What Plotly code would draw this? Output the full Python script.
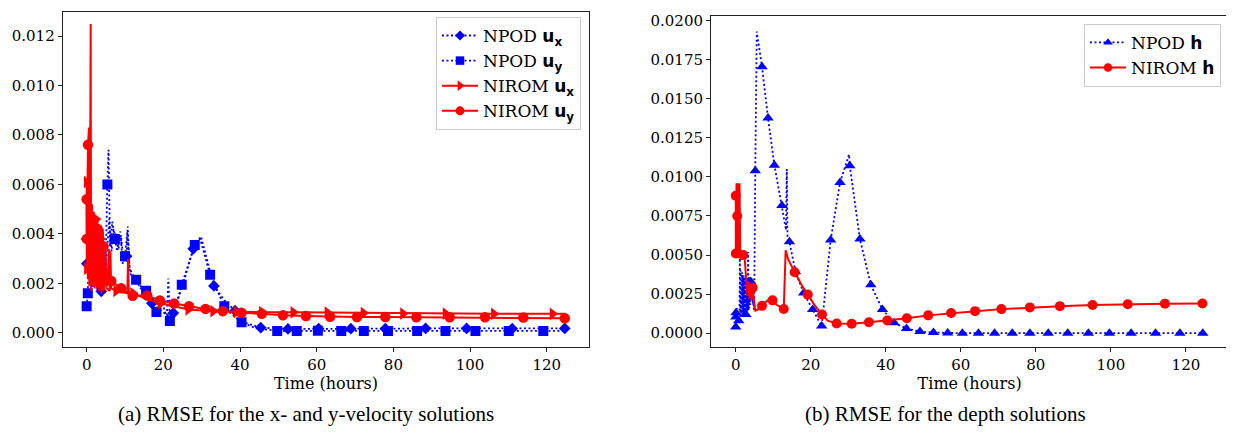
import plotly.graph_objects as go
from plotly.subplots import make_subplots

# ---------------- left panel: velocity RMSE ----------------
# NPOD u_x (blue diamonds, dotted)
npod_ux_t = [0.0, 0.05, 3.8, 7.6, 10.4, 17.0, 22.6, 27.8, 33.2, 38.7, 45.4, 52.5,
             60.5, 68.9, 77.9, 88.4, 99.1, 111.0, 124.7]
npod_ux_v = [0.0038, 0.0028, 0.00168, 0.0038, 0.0031, 0.0012, 0.0008, 0.0034, 0.0019,
             0.0009, 0.00021, 0.00016, 0.00017, 0.00017, 0.00017, 0.00018, 0.00018,
             0.00017, 0.00018]
npod_ux_xt = [0.5, 0.8, 1.1, 1.4, 1.7, 2.0, 2.4, 2.8, 3.2, 5.0, 5.9, 6.5, 7.0, 8.3, 9.0,
              9.6, 10.7, 11.2, 12.5, 14.0, 19.5, 21.0, 25.0, 29.8, 31.5, 36.0, 41.5]
npod_ux_xv = [0.0068, 0.0025, 0.0042, 0.0020, 0.0038, 0.0019, 0.0035, 0.0017, 0.0030,
              0.0026, 0.0046, 0.0033, 0.0042, 0.0034, 0.0039, 0.0029, 0.0043, 0.0026,
              0.0022, 0.0019, 0.0009, 0.0007, 0.0019, 0.0039, 0.0029, 0.0013, 0.0004]

# NPOD u_y (blue squares, dotted)
npod_uy_t = [0.0, 0.3, 5.4, 7.3, 10.0, 12.9, 15.5, 18.2, 21.7, 24.8, 28.2, 32.2, 35.9,
             40.4, 49.7, 54.8, 60.3, 66.4, 72.3, 78.6, 86.2, 93.6, 101.4, 110.1, 119.1]
npod_uy_v = [0.00108, 0.0016, 0.0060, 0.0038, 0.0031, 0.00215, 0.0017, 0.00085, 0.00048,
             0.00195, 0.00355, 0.00235, 0.00108, 0.00043, 0.00008, 0.00008, 0.00009,
             0.00008, 0.00008, 0.00008, 0.00008, 0.00008, 0.00008, 0.00008, 0.00008]
npod_uy_xt = [0.1, 0.6, 0.9, 1.3, 1.6, 2.0, 2.5, 3.0, 3.6, 4.3, 4.9, 5.7, 6.1, 6.7, 8.0,
              8.8, 9.4, 10.6, 11.3, 14.0, 16.8, 19.8, 20.9, 21.3, 22.5, 29.6, 37.5, 44.0,
              124.9]
npod_uy_xv = [0.0013, 0.0048, 0.0022, 0.0040, 0.0018, 0.0037, 0.0020, 0.0033, 0.0021,
              0.0029, 0.0024, 0.0074, 0.0035, 0.0045, 0.0033, 0.0041, 0.0028, 0.0041,
              0.0024, 0.0018, 0.0013, 0.0012, 0.0006, 0.0022, 0.0007, 0.0038, 0.0008,
              0.0002, 0.00008]

# NIROM u_x (red right-triangles, solid)
nirom_ux_t = [0.0, 0.05, 2.4, 3.6, 7.7, 12.1, 19.3, 26.5, 33.0, 39.1, 45.7, 53.9, 62.8,
              72.2, 82.5, 93.6, 106.2, 121.5]
nirom_ux_v = [0.0061, 0.0026, 0.0046, 0.0038, 0.0017, 0.0016, 0.0012, 0.00095, 0.00088,
              0.00085, 0.00084, 0.00083, 0.00082, 0.0008, 0.00078, 0.00078, 0.00077,
              0.00077]
nirom_ux_xt = [0.15, 0.3, 0.5, 0.7, 0.9, 1.1, 1.3, 1.6, 1.9, 2.1, 2.7, 3.0, 3.3, 3.9, 4.2,
               4.5, 4.8, 5.2, 6.0, 6.2, 6.4, 10.6, 10.8, 11.0, 16.0, 124.9]
nirom_ux_xv = [0.0048, 0.0022, 0.0058, 0.0019, 0.0055, 0.0017, 0.0050, 0.0019, 0.0049,
               0.0018, 0.0018, 0.0044, 0.0017, 0.0016, 0.0042, 0.0017, 0.0035, 0.0018,
               0.0017, 0.0033, 0.0018, 0.0016, 0.0030, 0.0016, 0.00135, 0.00077]

# NIROM u_y (red circles, solid)
nirom_uy_t = [0.0, 0.02, 0.35, 1.8, 2.9, 4.4, 6.4, 9.0, 12.0, 15.8, 19.1, 22.8, 26.7,
              31.0, 35.5, 40.4, 45.7, 51.2, 57.2, 63.5, 70.5, 77.9, 86.0, 94.7, 103.9,
              113.9, 124.7]
nirom_uy_v = [0.0054, 0.0038, 0.0076, 0.0045, 0.0042, 0.0035, 0.0021, 0.0018, 0.0015,
              0.00151, 0.00131, 0.00119, 0.00108, 0.00097, 0.00088, 0.00081, 0.00077,
              0.00071, 0.00068, 0.00065, 0.00064, 0.00064, 0.00063, 0.00063, 0.00063,
              0.00062, 0.00059]
nirom_uy_xt = [0.6, 0.8, 1.05, 1.15, 1.4, 1.6, 2.1, 2.4, 2.6, 3.2, 3.5, 3.8, 4.1, 4.7,
               5.0, 5.4, 5.8, 6.0]
nirom_uy_xv = [0.0083, 0.0025, 0.01248, 0.0022, 0.0052, 0.0020, 0.0021, 0.0047, 0.0019,
               0.0018, 0.0043, 0.0017, 0.0041, 0.0019, 0.0026, 0.0019, 0.0034, 0.0020]

# ---------------- right panel: depth RMSE ----------------
# NPOD h (blue triangles, dotted)
npod_h_t = [0.0, 0.02, 0.05, 0.8, 2.7, 4.0, 5.2, 7.0, 8.6, 10.3, 12.3, 14.3, 15.9, 18.1,
            20.5, 22.9, 25.3, 27.8, 30.4, 33.1, 36.0, 39.1, 42.2, 45.5, 49.1, 52.7, 56.5,
            60.4, 64.7, 69.0, 73.7, 78.4, 83.3, 88.5, 94.0, 99.6, 105.4, 111.9, 118.4,
            124.5]
npod_h_v = [0.0004, 0.00103, 0.0013, 0.0008, 0.0012, 0.0033, 0.0104, 0.01705, 0.01377,
            0.01075, 0.00817, 0.00585, 0.00395, 0.00257, 0.00152, 0.00046, 0.00596,
            0.00965, 0.01071, 0.00602, 0.0031, 0.00152, 0.00067, 0.0003, 0.0001, 0.00004,
            0.00001, 0.0, 0.0, 0.0, 0.0, 0.0, 0.0, 0.0, 0.0, 0.0, 0.0, 0.0, 0.0, 0.0]
npod_h_xt = [0.3, 0.5, 1.0, 1.1, 1.2, 1.3, 1.4, 1.5, 1.6, 1.7, 1.8, 1.9, 2.0, 2.1, 2.2,
             2.3, 2.4, 2.5, 2.6, 2.8, 2.9, 3.0, 3.1, 3.2, 3.3, 3.4, 3.5, 3.6, 3.7, 3.8,
             3.9, 4.2, 4.3, 4.4, 4.5, 4.6, 4.7, 4.9, 5.6, 13.4, 13.6, 13.8, 30.2]
npod_h_xv = [0.0016, 0.0007, 0.0011, 0.0048, 0.0010, 0.0040, 0.0011, 0.0038, 0.0012,
             0.0039, 0.0012, 0.0036, 0.0011, 0.0037, 0.0013, 0.0035, 0.0012, 0.0036,
             0.0013, 0.0034, 0.0013, 0.0035, 0.0014, 0.0036, 0.0052, 0.0015, 0.0036,
             0.0016, 0.0034, 0.0018, 0.0033, 0.0030, 0.0022, 0.0031, 0.0019, 0.0027,
             0.0017, 0.0015, 0.0193, 0.0066, 0.0105, 0.0062, 0.01144]

# NIROM h (red circles, solid)
nirom_h_t = [0.0, 0.02, 0.4, 2.0, 4.5, 7.0, 9.8, 12.8, 15.7, 19.2, 23.0, 26.9, 30.9,
             35.5, 40.4, 45.6, 51.3, 57.4, 63.8, 70.8, 78.4, 86.4, 95.1, 104.5, 114.4,
             124.4]
nirom_h_v = [0.0088, 0.0051, 0.0075, 0.0050, 0.0029, 0.00175, 0.0021, 0.00155, 0.0039,
             0.00247, 0.0012, 0.00062, 0.00061, 0.0007, 0.00081, 0.00096, 0.00114,
             0.00129, 0.00141, 0.00154, 0.00165, 0.00173, 0.0018, 0.00185, 0.00189,
             0.0019]
nirom_h_xt = [0.2, 0.3, 0.6, 0.8, 1.0, 1.2, 1.5, 2.4, 2.8, 3.1, 3.4, 3.7, 4.0, 4.2, 5.2,
              5.8, 8.5, 11.0, 13.3, 14.0, 17.5, 21.0, 24.5]
nirom_h_xv = [0.0096, 0.0049, 0.0096, 0.0048, 0.0096, 0.0052, 0.0047, 0.0047, 0.0036,
              0.0024, 0.0033, 0.0022, 0.0031, 0.0021, 0.00145, 0.0015, 0.0021, 0.0018,
              0.0053, 0.0047, 0.0031, 0.0018, 0.0008]

BLUE = '#0000ff'
RED = '#ff0000'
SERIF = 'DejaVu Serif'

# page body adds an 8px offset, so the figure is a bit smaller than the window
W, H = 1226, 418


def px(x, y):
    """window pixel -> paper fraction"""
    return (x - 8) / W, 1 - (y - 8) / H


def label(prefix, var, sub=None):
    """Legend text: serif prefix + bold sans math symbol"""
    s = f'<b>{var}<sub>{sub}</sub></b>' if sub else f'<b>{var}</b>'
    return f'{prefix} <span style="font-family:DejaVu Sans">{s}</span>'


def add_series(fig, col, t_mark, v_mark, t_extra, v_extra, color, dash, symbol, size,
               name, legend):
    pts = sorted(zip(t_mark + t_extra, v_mark + v_extra), key=lambda p: p[0])
    line = dict(color=color, width=2 if dash == 'solid' else 1.8, dash=dash)
    marker = dict(color=color, symbol=symbol, size=size, line=dict(width=0))
    fig.add_trace(go.Scatter(x=[p[0] for p in pts], y=[p[1] for p in pts], mode='lines',
                             line=line, showlegend=False, hoverinfo='skip'),
                  row=1, col=col)
    fig.add_trace(go.Scatter(x=t_mark, y=v_mark, mode='markers', marker=marker,
                             showlegend=False, name=name),
                  row=1, col=col)
    # legend entry only
    fig.add_trace(go.Scatter(x=[None], y=[None], mode='lines+markers', name=name,
                             line=line, marker=dict(marker, size=size * 0.85),
                             legend=legend),
                  row=1, col=col)


fig = make_subplots(rows=1, cols=2)

DOT = '2px,2.5px'
add_series(fig, 1, npod_ux_t, npod_ux_v, npod_ux_xt, npod_ux_xv, BLUE, DOT, 'diamond', 9,
           label('NPOD', 'u', 'x'), 'legend')
add_series(fig, 1, npod_uy_t, npod_uy_v, npod_uy_xt, npod_uy_xv, BLUE, DOT, 'square', 10,
           label('NPOD', 'u', 'y'), 'legend')
add_series(fig, 1, nirom_ux_t, nirom_ux_v, nirom_ux_xt, nirom_ux_xv, RED, 'solid',
           'triangle-right', 11, label('NIROM', 'u', 'x'), 'legend')
add_series(fig, 1, nirom_uy_t, nirom_uy_v, nirom_uy_xt, nirom_uy_xv, RED, 'solid',
           'circle', 10.5, label('NIROM', 'u', 'y'), 'legend')

add_series(fig, 2, npod_h_t, npod_h_v, npod_h_xt, npod_h_xv, BLUE, DOT, 'triangle-up', 10,
           label('NPOD', 'h'), 'legend2')
add_series(fig, 2, nirom_h_t, nirom_h_v, nirom_h_xt, nirom_h_xv, RED, 'solid', 'circle', 10,
           label('NIROM', 'h'), 'legend2')

axis_style = dict(showgrid=False, zeroline=False, showline=True, mirror=True,
                  linecolor='#222222', linewidth=1, ticks='outside', ticklen=4,
                  tickwidth=1, tickcolor='#222222',
                  tickfont=dict(family=SERIF, size=15, color='black'))
xtitle = dict(text='Time (hours)', font=dict(family=SERIF, size=16, color='black'),
              standoff=3)

# plot frames (window pixels)
lx0, ly0 = px(62.7, 346)
lx1, ly1 = px(589.3, 8)
rx0, ry0 = px(711, 346.7)
rx1, ry1 = px(1228.3, 11.7)

fig.update_xaxes(axis_style, title=xtitle, tickmode='array',
                 tickvals=[0, 20, 40, 60, 80, 100, 120])
fig.update_xaxes(domain=[lx0, lx1], range=[-6.25, 131.1], row=1, col=1)
fig.update_xaxes(domain=[rx0, rx1], range=[-6.6, 131.3], row=1, col=2)
fig.update_yaxes(axis_style)
fig.update_yaxes(domain=[ly0, ly1], range=[-0.00056, 0.01297], dtick=0.002,
                 tickformat='.3f', row=1, col=1)
fig.update_yaxes(domain=[ry0, ry1], range=[-0.000913, 0.02032], dtick=0.0025,
                 tickformat='.4f', row=1, col=2)

legend_style = dict(xanchor='right', yanchor='top', bgcolor='white',
                    bordercolor='#cccccc', borderwidth=1,
                    font=dict(family=SERIF, size=17, color='black'),
                    tracegroupgap=0, itemwidth=36)
leg1 = px(581, 13)
leg2 = px(1221, 20)
cap_a = px(306, 414)
cap_b = px(945, 414)
cap_font = dict(family='Liberation Serif', size=21, color='black')

fig.update_layout(
    width=W, height=H,
    margin=dict(l=0, r=0, t=0, b=0),
    paper_bgcolor='white', plot_bgcolor='white',
    legend=dict(legend_style, x=leg1[0], y=leg1[1]),
    legend2=dict(legend_style, x=leg2[0], y=leg2[1]),
    annotations=[
        dict(text='(a) RMSE for the x- and y-velocity solutions', x=cap_a[0], y=cap_a[1],
             xref='paper', yref='paper', xanchor='center', yanchor='middle',
             showarrow=False, font=cap_font),
        dict(text='(b) RMSE for the depth solutions', x=cap_b[0], y=cap_b[1],
             xref='paper', yref='paper', xanchor='center', yanchor='middle',
             showarrow=False, font=cap_font),
    ],
)

fig.write_html("out.html")
